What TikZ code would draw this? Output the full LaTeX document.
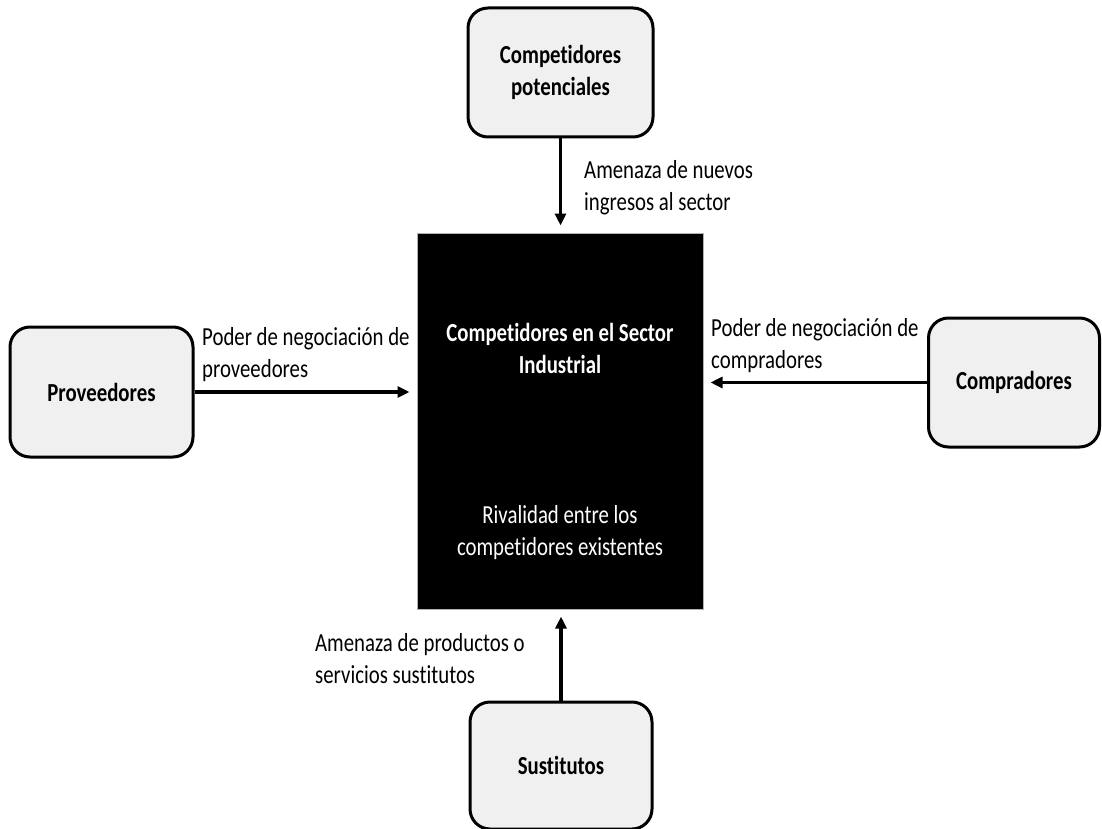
\documentclass[tikz,border=0pt]{standalone}
\usepackage{fontspec}
\setmainfont{Carlito}[FakeStretch=0.8, Ligatures={NoCommon}]
\usetikzlibrary{arrows.meta}
\definecolor{boxgray}{HTML}{F0F0F0}
\begin{document}
\begin{tikzpicture}[x=1pt,y=-1pt,
  font=\fontsize{26}{32}\selectfont,
  force/.style={draw=black, line width=3pt, rounded corners=20pt, fill=boxgray,
    font=\fontsize{26}{32}\selectfont\bfseries, align=center, inner sep=0pt},
  lbl/.style={anchor=base west, align=left, inner sep=0pt},
  wlbl/.style={anchor=base, align=center, inner sep=0pt, text=white},
  arr/.style={line width=3.5pt, -{Triangle[length=12pt,width=11pt]}, shorten >=7pt}]
\useasboundingbox (0,0) rectangle (1102,829);
% central box
\node[draw=gray!60, line width=1pt, fill=black, minimum width=286pt, minimum height=376pt, inner sep=0pt] (sector) at (560,421) {};
\node[wlbl, font=\fontsize{26}{32}\selectfont\bfseries] (title) at (560,373) {Competidores en el Sector\\Industrial};
\node[wlbl] (rival) at (560,555) {Rivalidad entre los\\competidores existentes};
% outer boxes
\node[force, minimum width=185pt, minimum height=129pt] (pot) at (560.5,72.5) {Competidores\\potenciales};
\node[force, minimum width=183pt, minimum height=130pt] (prov) at (101.5,392) {Proveedores};
\node[force, minimum width=171pt, minimum height=129pt] (comp) at (1014,382.5) {Compradores};
\node[force, minimum width=182pt, minimum height=127pt] (sust) at (561,765.5) {Sustitutos};
% arrows
\draw[arr] (pot.south) -- (pot.south |- sector.north);
\draw[arr] (prov.east) -- (prov.east -| sector.west);
\draw[arr] (comp.west) -- (comp.west -| sector.east);
\draw[arr] (sust.north) -- (sust.north |- sector.south);
% labels
\node[lbl] (lpot) at (584,210) {Amenaza de nuevos\\ingresos al sector};
\node[lbl] (lprov) at (202,377) {Poder de negociación de\\proveedores};
\node[lbl] (lcomp) at (711,368) {Poder de negociación de\\compradores};
\node[lbl] (lsust) at (315,683) {Amenaza de productos o\\servicios sustitutos};
\end{tikzpicture}
\end{document}
